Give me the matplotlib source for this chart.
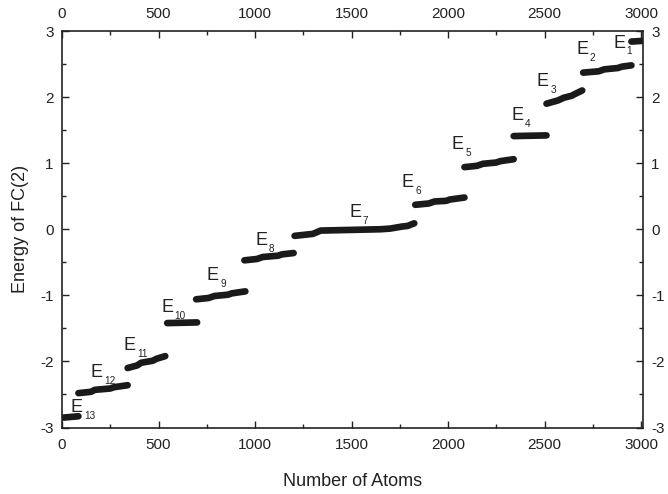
import matplotlib
matplotlib.use("Agg")
import matplotlib.pyplot as plt
from matplotlib.ticker import MultipleLocator

plt.rcParams['font.family'] = ['Liberation Sans', 'DejaVu Sans']
plt.rcParams['axes.unicode_minus'] = False

# Energy plateaus (sorted energies) : x = atom index, y = energy
level_names = ["13", "12", "11", "10", "9", "8", "7", "6", "5", "4", "3", "2", "1"]
level_x = [
    [8, 85],
    [85, 150, 170, 250, 270, 340],
    [340, 390, 410, 470, 490, 535],
    [545, 700],
    [695, 760, 790, 860, 880, 950],
    [945, 1010, 1040, 1120, 1140, 1200],
    [1205, 1300, 1340, 1650, 1700, 1760, 1790, 1825],
    [1830, 1900, 1930, 1990, 2010, 2085],
    [2085, 2150, 2180, 2250, 2270, 2340],
    [2340, 2510],
    [2510, 2570, 2600, 2640, 2660, 2695],
    [2700, 2780, 2810, 2880, 2900, 2950],
    [2950, 3005],
]
level_y = [
    [-2.85, -2.83],
    [-2.48, -2.46, -2.43, -2.41, -2.39, -2.36],
    [-2.10, -2.06, -2.02, -1.99, -1.96, -1.92],
    [-1.42, -1.41],
    [-1.06, -1.04, -1.01, -0.99, -0.97, -0.94],
    [-0.47, -0.45, -0.42, -0.40, -0.38, -0.36],
    [-0.10, -0.07, -0.02, 0.00, 0.01, 0.04, 0.05, 0.09],
    [0.37, 0.39, 0.42, 0.43, 0.45, 0.48],
    [0.94, 0.96, 0.99, 1.01, 1.03, 1.06],
    [1.41, 1.42],
    [1.90, 1.95, 1.99, 2.02, 2.05, 2.10],
    [2.37, 2.39, 2.42, 2.44, 2.46, 2.48],
    [2.84, 2.85],
]
# label anchor (data coords of the "E" baseline-left)
label_x = [45, 150, 320, 515, 750, 1000, 1490, 1760, 2020, 2330, 2460, 2665, 2855]
label_y = [-2.77, -2.23, -1.83, -1.25, -0.77, -0.24, 0.18, 0.64, 1.21, 1.65, 2.17, 2.65, 2.75]

x_ticks = [0, 500, 1000, 1500, 2000, 2500, 3000]
y_ticks = [-3, -2, -1, 0, 1, 2, 3]

fig = plt.figure(figsize=(6.68, 4.94), dpi=100)
ax = fig.add_axes([62/668, 1-427.5/494, (643-62)/668, (427.5-31)/494])

for xs, ys in zip(level_x, level_y):
    ax.plot(xs, ys, color='#1a1a1a', lw=4.8, solid_capstyle='round',
            solid_joinstyle='round', clip_on=True)

for name, lx, ly in zip(level_names, label_x, label_y):
    ax.text(lx, ly, "E", fontsize=13, color='#222222', ha='left', va='baseline')
    ax.annotate(name, xy=(lx, ly), xytext=(9.6, -5), textcoords='offset points',
                fontsize=7.2, color='#222222', ha='left', va='baseline')

ax.set_xlim(0, 3010)
ax.set_ylim(-3, 3)
ax.set_xticks(x_ticks)
ax.set_yticks(y_ticks)
ax.xaxis.set_minor_locator(MultipleLocator(250))
ax.yaxis.set_minor_locator(MultipleLocator(0.5))
ax.tick_params(which='both', direction='in', top=True, right=True,
               labeltop=True, labelright=True, labelsize=11, width=1.0,
               color='#222222', labelcolor='#222222')
ax.tick_params(which='major', length=5, pad=6)
ax.xaxis.set_tick_params(which='major', pad=7.5)
ax.tick_params(which='minor', length=3)
for s in ax.spines.values():
    s.set_linewidth(1.2)
    s.set_color('#222222')

ax.set_xlabel("Number of Atoms", fontsize=13, color='#222222', labelpad=15)
ax.set_ylabel("Energy of FC(2)", fontsize=13, color='#222222', labelpad=8)

fig.savefig("out.png", dpi=100)
